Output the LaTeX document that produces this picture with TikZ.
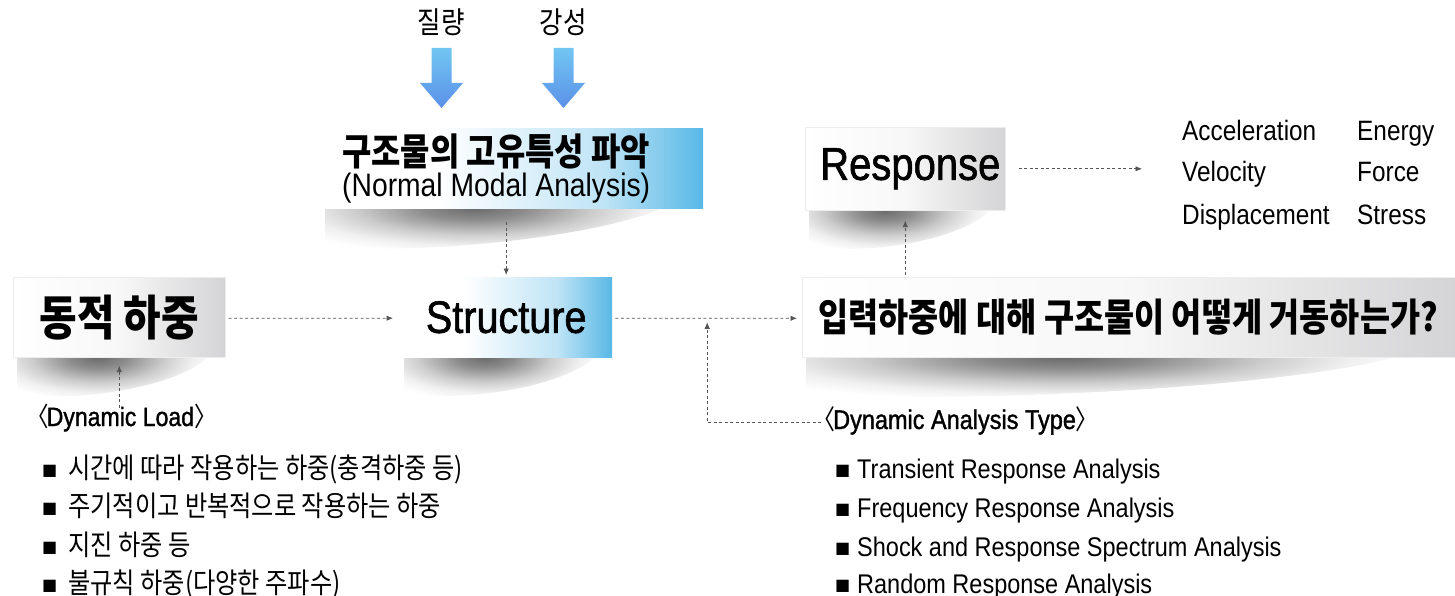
\documentclass[tikz,border=0pt]{standalone}
\usepackage{fontspec}
\setmainfont{Liberation Sans}[FakeStretch=0.87]
\newfontfamily\kr{Noto Sans CJK KR}[FakeStretch=0.85]
\newfontfamily\lat{Liberation Sans}[FakeStretch=0.87]
\newfontfamily\latm{Liberation Sans}[FakeStretch=0.87,FakeBold=1.3]
\newfontfamily\sym{DejaVu Sans}
\usetikzlibrary{arrows.meta,calc}
\definecolor{boxblue}{HTML}{58B8E6}
\definecolor{boxbluelt}{HTML}{BFE4F6}
\definecolor{boxgray}{HTML}{D4D4D6}
\definecolor{arrtop}{HTML}{72C6F3}
\definecolor{arrbot}{HTML}{5A90E8}
\definecolor{connc}{HTML}{555555}
\pgfdeclarehorizontalshading{blueshade}{100bp}{color(0bp)=(white); color(25bp)=(white); color(40bp)=(white); color(62bp)=(boxbluelt); color(75bp)=(boxblue); color(100bp)=(boxblue)}
\pgfdeclarehorizontalshading{grayshade}{100bp}{color(0bp)=(white); color(25bp)=(white); color(50bp)=(white!97!black); color(75bp)=(boxgray); color(100bp)=(boxgray)}
\pgfdeclareradialshading{shadowrad}{\pgfpoint{0bp}{0bp}}{color(0bp)=(black!58); color(6bp)=(black!45); color(14bp)=(black!20); color(20bp)=(black!6); color(25bp)=(white); color(50bp)=(white)}
\pgfdeclarelayer{background}
\pgfsetlayers{background,main}
\tikzset{
  bluebox/.style={shading=blueshade, draw=none, inner sep=0pt},
  graybox/.style={shading=grayshade, draw=black!7, line width=0.6pt, inner sep=0pt},
  conn/.style={draw=connc, line width=0.8pt, dash pattern=on 3pt off 2.5pt, -{Latex[length=6.5pt,width=5.5pt]}},
  krline/.style={font=\kr\fontsize{28.5}{30}\selectfont, anchor=base west, inner sep=0pt},
  enline/.style={font=\lat\fontsize{27}{30}\selectfont, anchor=base west, inner sep=0pt},
  resword/.style={font=\lat\fontsize{28}{30}\selectfont, anchor=base west, inner sep=0pt},
  toplabel/.style={font=\kr\fontsize{30}{30}\selectfont, inner sep=0pt},
  bigarrow/.style={top color=arrtop, bottom color=arrbot},
}
\newcommand{\bul}[1]{\makebox[#1][l]{\raisebox{3pt}{\sym\fontsize{16}{16}\selectfont ■}}}
% #1 node, #2 rotation angle
\newcommand{\boxshadow}[2]{%
  \begin{scope}
  \clip ($(#1.south west)+(4,0.5)$) rectangle ($(#1.south east)+(0,70)$);
  \path let \p1=(#1.south west), \p2=(#1.south east), \n1={0.55*(\x2-\x1)} in
    [shading=shadowrad] ($(\p1)!0.4!(\p2)$) ellipse [x radius=\n1, y radius=36pt, rotate=#2];
  \end{scope}}
\begin{document}
\begin{tikzpicture}[x=1pt,y=-1pt]
\useasboundingbox (0,0) rectangle (1455,596);

% top labels and blue arrows
\node[toplabel] (mass) at (441,22) {질량};
\node[toplabel] (stiff) at (563,22) {강성};
\shade[bigarrow] (431.5,48) -- (451.5,48) -- (451.5,83) -- (463,83) -- (441.5,108) -- (420,83) -- (431.5,83) -- cycle;
\shade[bigarrow] (553.5,48) -- (573.5,48) -- (573.5,83) -- (585,83) -- (563.5,108) -- (542,83) -- (553.5,83) -- cycle;

% boxes
\node[bluebox, anchor=north west, minimum width=382, minimum height=80, text width=340, inner xsep=21, align=left] (modal) at (321,128)
  {{\kr\bfseries\fontsize{37.5}{33}\selectfont\spaceskip=0pt\xspaceskip=0pt 구조물의 고유특성 파악}\\[3pt]{\lat\fontsize{32.5}{33}\selectfont\spaceskip=0pt\xspaceskip=0pt (Normal Modal Analysis)}};
\node[graybox, anchor=north west, minimum width=212, minimum height=80] (load) at (13,277)
  {\kr\bfseries\fontsize{48}{48}\selectfont 동적 하중};
\node[bluebox, anchor=north west, minimum width=212, minimum height=80] (struct) at (400,277)
  {\latm\fontsize{45.5}{45}\selectfont Structure};
\node[graybox, anchor=north west, minimum width=200, minimum height=83] (resp) at (805,127)
  {\latm\fontsize{46}{46}\selectfont\hspace*{10pt}Response};
\node[graybox, anchor=north west, minimum width=653, minimum height=80, inner xsep=16, text width=621, align=left] (big) at (802,277)
  {\kr\bfseries\fontsize{38.5}{36}\selectfont\spaceskip=0pt\xspaceskip=0pt 입력하중에 대해 구조물이 어떻게 거동하는가?};

\begin{pgfonlayer}{background}
\boxshadow{modal}{5}
\boxshadow{load}{7}
\boxshadow{struct}{7}
\boxshadow{resp}{7}
\boxshadow{big}{2.5}
\end{pgfonlayer}

% response quantities
\node[resword] (acc) at (1182,141) {Acceleration};
\node[resword] (vel) at (1182,182) {Velocity};
\node[resword] (disp) at (1182,224) {Displacement};
\node[resword] (ene) at (1357,141) {Energy};
\node[resword] (frc) at (1357,182) {Force};
\node[resword] (str) at (1357,224) {Stress};

% titles
\node[font=\latm\fontsize{26.5}{30}\selectfont, anchor=base west, inner sep=0pt] (ltitle) at (34,426) {\kern-8pt{\kr 〈}\kern-2pt Dynamic Load{\kr 〉}};
\node[font=\latm\fontsize{27}{30}\selectfont, anchor=base west, inner sep=0pt] (atitle) at (821,429) {\kern-9pt{\kr 〈}\kern-2pt Dynamic Analysis Type{\kr 〉}};

% lists
\node[krline] (l1) at (42,478) {\bul{26pt}시간에 따라 작용하는 하중(충격하중 등)};
\node[krline] (l2) at (42,516) {\bul{26pt}주기적이고 반복적으로 작용하는 하중};
\node[krline] (l3) at (42,555) {\bul{26pt}지진 하중 등};
\node[krline] (l4) at (42,593) {\bul{26pt}불규칙 하중(다양한 주파수)};
\node[enline] (a1) at (835,478) {\bul{22pt}Transient Response Analysis};
\node[enline] (a2) at (835,517) {\bul{22pt}Frequency Response Analysis};
\node[enline] (a3) at (835,556) {\bul{22pt}Shock and Response Spectrum Analysis};
\node[enline] (a4) at (835,593) {\bul{22pt}Random Response Analysis};

% connectors
\coordinate (j) at ($(struct.east)!0.5!(big.west)+(0,5)$);
\coordinate (rl) at ($(acc.west |- resp.east)+(-40,0)$);
\draw[conn] ($(modal.south -| struct.north)+(0,14)$) -- ($(struct.north)+(0,-2)$);
\draw[conn] ($(load.east)+(3,1)$) -- ($(struct.west)+(-7,1)$);
\draw[conn] ($(struct.east)+(3,1)$) -- ($(big.west)+(-5,1)$);
\draw[conn] ($(atitle.west)+(0,2)$) -| (j);
\draw[conn] ($(resp.south |- big.north)+(0,-2)$) -- ($(resp.south)+(0,10)$);
\draw[conn] ($(resp.east)+(13,0)$) -- (rl);
\draw[conn] ($(load.south)+(0,50)$) -- ($(load.south)+(0,8)$);
\end{tikzpicture}
\end{document}
